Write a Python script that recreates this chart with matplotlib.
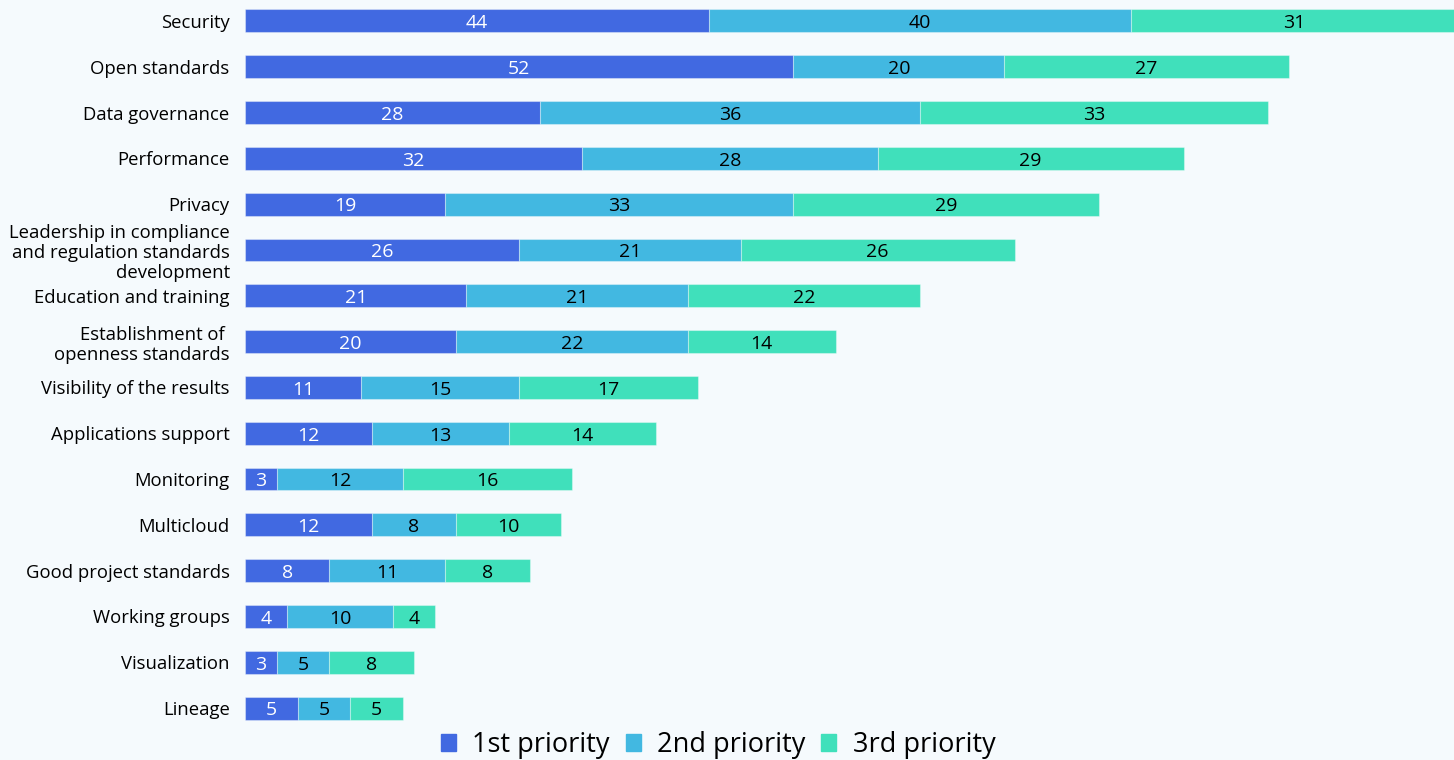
import numpy as np
import matplotlib.pyplot as plt

plt.rcParams['font.family'] = ['Open Sans', 'DejaVu Sans']

categories = ["Security", "Open standards", "Data governance", "Performance", "Privacy",
              "Leadership in compliance\nand regulation standards\ndevelopment",
              "Education and training", "Establishment of \nopenness standards",
              "Visibility of the results", "Applications support", "Monitoring",
              "Multicloud", "Good project standards", "Working groups",
              "Visualization", "Lineage"]
first = [44, 52, 28, 32, 19, 26, 21, 20, 11, 12, 3, 12, 8, 4, 3, 5]
second = [40, 20, 36, 28, 33, 21, 21, 22, 15, 13, 12, 8, 11, 10, 5, 5]
third = [31, 27, 33, 29, 29, 26, 22, 14, 17, 14, 16, 10, 8, 4, 8, 5]
series_names = ["1st priority", "2nd priority", "3rd priority"]
colors = ["#4169e1", "#42b8e1", "#40e0bb"]
text_colors = ["white", "black", "black"]

bg = "#f5fafd"
W, H = 1454, 760
fig = plt.figure(figsize=(W / 100, H / 100), dpi=100, facecolor=bg)
ax = fig.add_axes([245 / W, 1 - 731 / H, 1209 / W, 731 / H])
ax.set_facecolor(bg)

y = np.arange(len(categories))
left = np.zeros(len(categories))
for vals, col, tc in zip([first, second, third], colors, text_colors):
    vals = np.array(vals)
    ax.barh(y, vals, left=left, height=0.5, color=col, edgecolor=(1, 1, 1, 0.35), linewidth=0.8)
    for yi, l, v in zip(y, left, vals):
        ax.text(l + v / 2, yi + 0.05, str(v), ha='center', va='center', color=tc, fontsize=14)
    left = left + vals

ax.set_xlim(0, 1209 / 10.545)
ax.set_ylim(15.5, -0.456)
ax.set_yticks(y)
ax.set_yticklabels(categories, fontsize=13.3, linespacing=1.15)
ax.tick_params(axis='y', length=0, pad=11)
ax.set_xticks([])
for s in ax.spines.values():
    s.set_visible(False)

handles = [plt.Rectangle((0, 0), 1, 1, color=c) for c in colors]
fig.legend(handles, series_names, loc='center', bbox_to_anchor=(718 / W, 1 - 745 / H),
           ncol=3, frameon=False, fontsize=19.5, handlelength=0.55, handleheight=0.55,
           handletextpad=0.6, columnspacing=0.6, borderaxespad=0)

fig.savefig("out.png", dpi=100, facecolor=bg)
